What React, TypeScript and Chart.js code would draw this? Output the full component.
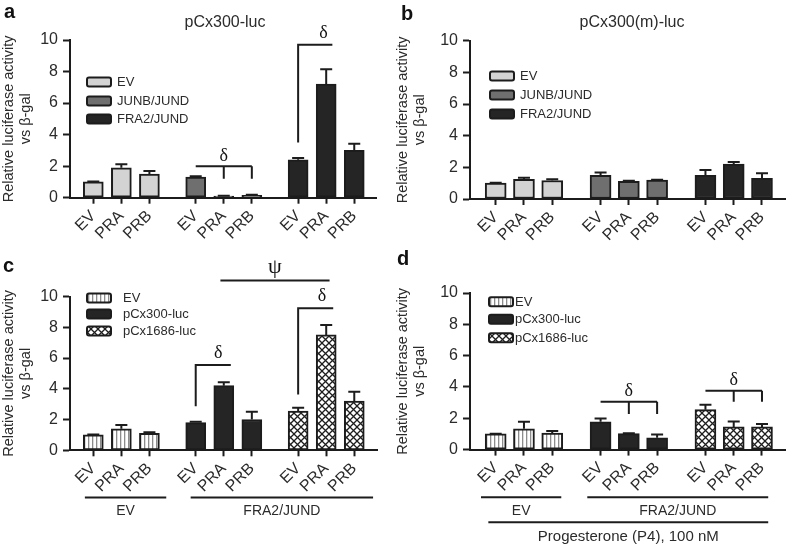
import React, { useEffect, useRef } from 'react';
import { Chart, registerables } from 'chart.js';

Chart.register(...registerables);

const FONT = '"Liberation Sans", Arial, Helvetica, sans-serif';
const SERIF = '"Liberation Serif", "DejaVu Serif", serif';
const INK = '#1c1c1c';
const TEXT = '#2b2b2b';

// ---------- shared labels ----------
const barLabels = ['EV', 'PRA', 'PRB'];
const yTicks = [0, 2, 4, 6, 8, 10];
const yTitle = ['Relative luciferase activity', 'vs β-gal'];

// ---------- panel a : pCx300-luc ----------
const aTitle = 'pCx300-luc';
const aSeries = ['EV', 'JUNB/JUND', 'FRA2/JUND'];
const aEV = [1.0, 1.9, 1.5];
const aEVErr = [0.03, 0.22, 0.2];
const aJUNB = [1.3, 0.1, 0.15];
const aJUNBErr = [0.06, 0.02, 0.03];
const aFRA2 = [2.4, 7.2, 3.0];
const aFRA2Err = [0.12, 0.95, 0.42];

// ---------- panel b : pCx300(m)-luc ----------
const bTitle = 'pCx300(m)-luc';
const bSeries = ['EV', 'JUNB/JUND', 'FRA2/JUND'];
const bEV = [1.0, 1.25, 1.17];
const bEVErr = [0.02, 0.1, 0.08];
const bJUNB = [1.5, 1.12, 1.2];
const bJUNBErr = [0.18, 0.04, 0.02];
const bFRA2 = [1.5, 2.2, 1.3];
const bFRA2Err = [0.33, 0.14, 0.32];

// ---------- panel c ----------
const cSeries = ['EV', 'pCx300-luc', 'pCx1686-luc'];
const cEV = [1.0, 1.4, 1.1];
const cEVErr = [0.02, 0.25, 0.07];
const c300 = [1.8, 4.2, 2.0];
const c300Err = [0.06, 0.22, 0.5];
const c1686 = [2.55, 7.5, 3.2];
const c1686Err = [0.22, 0.65, 0.6];
const cGroupLabels = ['EV', 'FRA2/JUND'];

// ---------- panel d ----------
const dSeries = ['EV', 'pCx300-luc', 'pCx1686-luc'];
const dEV = [1.0, 1.33, 1.05];
const dEVErr = [0.02, 0.45, 0.13];
const d300 = [1.78, 1.02, 0.75];
const d300Err = [0.2, 0.03, 0.22];
const d1686 = [2.55, 1.45, 1.45];
const d1686Err = [0.32, 0.35, 0.18];
const dGroupLabels = ['EV', 'FRA2/JUND'];
const dTreatment = 'Progesterone (P4), 100 nM';

// ---------- types ----------
type Bracket =
  | { kind: 'comb'; from: [number, number]; to: [number, number]; drops: [number, number][]; yTop: number; yBottom: number; sym: string; symY: number }
  | { kind: 'L'; at: [number, number]; yLow: number; yTop: number; reach: number; sym: string; symDx: number; symY: number }
  | { kind: 'span'; from: [number, number]; to: [number, number]; pad: number; y: number; sym: string; symY: number };

type Group = { label: string; from: number; to: number; lineDy: number; textDy: number; size: number };

type PanelSpec = {
  left: number; top: number; w: number; h: number;
  letter: string; letterPos: [number, number];
  title?: string; titlePos?: [number, number];
  series: string[]; values: number[][]; errors: number[][]; fills: string[];
  gap: number; xmin: number; xmax: number; barWidth: number;
  area: { left: number; right: number; top: number; bottom: number };
  legend: { x: number; ys: number[]; textX: number };
  brackets: Bracket[];
  groups: Group[];
};

const GRAY_LIGHT = '#d3d3d3';
const GRAY_MID = '#6f6f6f';
const DARK = '#252525';

const panels: PanelSpec[] = [
  {
    left: 0, top: 0, w: 394, h: 245,
    letter: 'a', letterPos: [4, 18],
    title: aTitle, titlePos: [225, 27],
    series: aSeries, values: [aEV, aJUNB, aFRA2], errors: [aEVErr, aJUNBErr, aFRA2Err],
    fills: [GRAY_LIGHT, GRAY_MID, DARK],
    gap: 3.65, xmin: -0.83, xmax: 10.075, barWidth: 20,
    area: { left: 70, right: 376, top: 40, bottom: 197.7 },
    legend: { x: 87, ys: [82, 101, 119], textX: 117 },
    brackets: [
      { kind: 'comb', from: [1, 0], to: [1, 2], drops: [[1, 1], [1, 2]], yTop: 2.0, yBottom: 1.2, sym: 'δ', symY: 2.6 },
      { kind: 'L', at: [2, 0], yLow: 3.5, yTop: 9.7, reach: 1.22, sym: 'δ', symDx: 0.9, symY: 10.45 },
    ],
    groups: [],
  },
  {
    left: 394, top: 0, w: 394, h: 245,
    letter: 'b', letterPos: [7, 20],
    title: bTitle, titlePos: [238, 27],
    series: bSeries, values: [bEV, bJUNB, bFRA2], errors: [bEVErr, bJUNBErr, bFRA2Err],
    fills: [GRAY_LIGHT, GRAY_MID, DARK],
    gap: 3.71, xmin: -0.909, xmax: 10.234, barWidth: 21,
    area: { left: 76, right: 391, top: 40.7, bottom: 199 },
    legend: { x: 96, ys: [76, 95, 114], textX: 126 },
    brackets: [],
    groups: [],
  },
  {
    left: 0, top: 245, w: 394, h: 300,
    letter: 'c', letterPos: [3, 27],
    series: cSeries, values: [cEV, c300, c1686], errors: [cEVErr, c300Err, c1686Err],
    fills: ['stripe', DARK, 'cross'],
    gap: 3.65, xmin: -0.83, xmax: 10.11, barWidth: 20,
    area: { left: 70, right: 377, top: 51.5, bottom: 205.3 },
    legend: { x: 87, ys: [53, 69, 86], textX: 123 },
    brackets: [
      { kind: 'span', from: [1, 1], to: [2, 1], pad: 0.12, y: 11.04, sym: 'ψ', symY: 11.9 },
      { kind: 'L', at: [1, 0], yLow: 2.87, yTop: 5.54, reach: 1.25, sym: 'δ', symDx: 0.8, symY: 6.3 },
      { kind: 'L', at: [2, 0], yLow: 3.63, yTop: 9.24, reach: 1.25, sym: 'δ', symDx: 0.85, symY: 10.0 },
    ],
    groups: [
      { label: cGroupLabels[0], from: -0.3, to: 2.6, lineDy: 47.3, textDy: 60.7, size: 14 },
      { label: cGroupLabels[1], from: 3.47, to: 9.97, lineDy: 47.3, textDy: 60.7, size: 14 },
    ],
  },
  {
    left: 394, top: 245, w: 394, h: 300,
    letter: 'd', letterPos: [3, 20],
    series: dSeries, values: [dEV, d300, d1686], errors: [dEVErr, d300Err, d1686Err],
    fills: ['stripe', DARK, 'cross'],
    gap: 3.71, xmin: -0.909, xmax: 10.234, barWidth: 21,
    area: { left: 76, right: 391, top: 48, bottom: 204.6 },
    legend: { x: 95, ys: [56.7, 74.3, 92.7], textX: 121 },
    brackets: [
      { kind: 'comb', from: [1, 0], to: [1, 2], drops: [[1, 1], [1, 2]], yTop: 3.06, yBottom: 2.27, sym: 'δ', symY: 3.7 },
      { kind: 'comb', from: [2, 0], to: [2, 2], drops: [[2, 1], [2, 2]], yTop: 3.76, yBottom: 3.06, sym: 'δ', symY: 4.45 },
    ],
    groups: [
      { label: dGroupLabels[0], from: -0.52, to: 2.32, lineDy: 47.7, textDy: 61.1, size: 14 },
      { label: dGroupLabels[1], from: 3.24, to: 9.64, lineDy: 47.7, textDy: 61.1, size: 14 },
      { label: dTreatment, from: -0.26, to: 9.64, lineDy: 72.7, textDy: 87.1, size: 15 },
    ],
  },
];

// ---------- patterns ----------
function makeStripe(): CanvasPattern | string {
  const c = document.createElement('canvas');
  c.width = 4; c.height = 4;
  const g = c.getContext('2d');
  if (!g) return '#fff';
  g.fillStyle = '#ffffff'; g.fillRect(0, 0, 4, 4);
  g.fillStyle = '#8c8c8c'; g.fillRect(0, 0, 1.3, 4);
  return g.createPattern(c, 'repeat') || '#fff';
}
function makeCross(): CanvasPattern | string {
  const s = 7;
  const c = document.createElement('canvas');
  c.width = s; c.height = s;
  const g = c.getContext('2d');
  if (!g) return '#fff';
  g.fillStyle = '#ffffff'; g.fillRect(0, 0, s, s);
  g.strokeStyle = '#1e1e1e'; g.lineWidth = 1.3;
  g.beginPath();
  g.moveTo(0, 0); g.lineTo(s, s);
  g.moveTo(s, 0); g.lineTo(0, s);
  g.stroke();
  return g.createPattern(c, 'repeat') || '#fff';
}
function resolveFill(key: string): any {
  if (key === 'stripe') return makeStripe();
  if (key === 'cross') return makeCross();
  return key;
}

// ---------- plugins ----------
const errorBarPlugin = {
  id: 'errorBars',
  afterDatasetsDraw(chart: any) {
    const ctx = chart.ctx;
    const ys = chart.scales.y;
    chart.data.datasets.forEach((ds: any, di: number) => {
      const meta = chart.getDatasetMeta(di);
      meta.data.forEach((bar: any, i: number) => {
        const v = ds.data[i].y;
        const e = ds.errors ? ds.errors[i] : 0;
        if (!e) return;
        const base = ys.getPixelForValue(v);
        const top = ys.getPixelForValue(v + e);
        ctx.save();
        ctx.strokeStyle = INK;
        ctx.lineWidth = 2;
        ctx.beginPath();
        ctx.moveTo(bar.x, base);
        ctx.lineTo(bar.x, top);
        ctx.moveTo(bar.x - 6, top);
        ctx.lineTo(bar.x + 6, top);
        ctx.stroke();
        ctx.restore();
      });
    });
  },
};

function decoPlugin(p: PanelSpec, fills: any[]) {
  return {
    id: 'deco',
    afterDraw(chart: any) {
      const ctx: CanvasRenderingContext2D = chart.ctx;
      const xs = chart.scales.x;
      const ys = chart.scales.y;
      const ca = chart.chartArea;
      const pos = (g: number, i: number) => g * p.gap + i;
      const X = (v: number) => xs.getPixelForValue(v);
      const Y = (v: number) => ys.getPixelForValue(v);
      ctx.save();
      // panel letter
      ctx.fillStyle = '#111';
      ctx.font = `bold 20px ${FONT}`;
      ctx.textAlign = 'left';
      ctx.textBaseline = 'alphabetic';
      ctx.fillText(p.letter, p.letterPos[0], p.letterPos[1]);
      // panel title
      if (p.title && p.titlePos) {
        ctx.font = `16px ${FONT}`;
        ctx.fillStyle = TEXT;
        ctx.textAlign = 'center';
        ctx.fillText(p.title, p.titlePos[0], p.titlePos[1]);
      }
      // legend
      ctx.font = `13px ${FONT}`;
      ctx.textAlign = 'left';
      ctx.textBaseline = 'middle';
      p.series.forEach((name, g) => {
        const yy = p.legend.ys[g];
        ctx.fillStyle = fills[g];
        ctx.strokeStyle = INK;
        ctx.lineWidth = 2;
        ctx.beginPath();
        if ((ctx as any).roundRect) (ctx as any).roundRect(p.legend.x, yy - 4.5, 24, 9, 2);
        else ctx.rect(p.legend.x, yy - 4.5, 24, 9);
        ctx.fill();
        ctx.stroke();
        ctx.fillStyle = TEXT;
        ctx.fillText(name, p.legend.textX, yy + 0.5);
      });
      // significance brackets
      ctx.strokeStyle = INK;
      ctx.lineWidth = 2;
      ctx.fillStyle = '#111';
      ctx.textAlign = 'center';
      ctx.textBaseline = 'middle';
      for (const b of p.brackets) {
        ctx.beginPath();
        if (b.kind === 'comb') {
          const y0 = Y(b.yTop);
          ctx.moveTo(X(pos(b.from[0], b.from[1])), y0);
          ctx.lineTo(X(pos(b.to[0], b.to[1])), y0);
          for (const d of b.drops) {
            const xx = X(pos(d[0], d[1]));
            ctx.moveTo(xx, y0);
            ctx.lineTo(xx, Y(b.yBottom));
          }
          ctx.stroke();
          ctx.font = `18px ${SERIF}`;
          ctx.fillText(b.sym, X(pos(b.drops[0][0], b.drops[0][1])), Y(b.symY));
        } else if (b.kind === 'L') {
          const x0 = pos(b.at[0], b.at[1]);
          ctx.moveTo(X(x0), Y(b.yLow));
          ctx.lineTo(X(x0), Y(b.yTop));
          ctx.lineTo(X(x0 + b.reach), Y(b.yTop));
          ctx.stroke();
          ctx.font = `18px ${SERIF}`;
          ctx.fillText(b.sym, X(x0 + b.symDx), Y(b.symY));
        } else {
          const x0 = pos(b.from[0], b.from[1]) - b.pad;
          const x1 = pos(b.to[0], b.to[1]) + b.pad;
          ctx.moveTo(X(x0), Y(b.y));
          ctx.lineTo(X(x1), Y(b.y));
          ctx.stroke();
          ctx.font = `22px ${SERIF}`;
          ctx.fillText(b.sym, X((x0 + x1) / 2), Y(b.symY));
        }
      }
      // group underlines below the x axis
      for (const gr of p.groups) {
        const x0 = X(gr.from);
        const x1 = X(gr.to);
        ctx.beginPath();
        ctx.moveTo(x0, ca.bottom + gr.lineDy);
        ctx.lineTo(x1, ca.bottom + gr.lineDy);
        ctx.stroke();
        ctx.font = `${gr.size}px ${FONT}`;
        ctx.fillStyle = TEXT;
        ctx.fillText(gr.label, (x0 + x1) / 2, ca.bottom + gr.textDy);
      }
      ctx.restore();
    },
  };
}

function buildConfig(p: PanelSpec): any {
  const fills = p.fills.map(resolveFill);
  const pos = (g: number, i: number) => g * p.gap + i;
  const positions = p.values.flatMap((vals, g) => vals.map((_, i) => pos(g, i)));
  const datasets = p.values.map((vals, g) => ({
    label: p.series[g],
    data: vals.map((v, i) => ({ x: pos(g, i), y: v })),
    errors: p.errors[g],
    backgroundColor: fills[g],
    borderColor: INK,
    borderWidth: 2,
    borderSkipped: false,
    barThickness: p.barWidth,
    grouped: false,
  }));
  return {
    type: 'bar',
    data: { datasets },
    options: {
      responsive: false,
      maintainAspectRatio: false,
      animation: false,
      devicePixelRatio: 1,
      layout: { padding: { left: 0, top: p.area.top, right: p.w - p.area.right, bottom: 0 } },
      plugins: { legend: { display: false }, tooltip: { enabled: false } },
      scales: {
        x: {
          type: 'linear',
          min: p.xmin,
          max: p.xmax,
          offset: false,
          bounds: 'data',
          afterBuildTicks: (s: any) => { s.ticks = positions.map((v) => ({ value: v })); },
          afterFit: (s: any) => { s.height = p.h - p.area.bottom; },
          grid: { display: true, drawOnChartArea: false, drawTicks: true, tickLength: 6, tickWidth: 2, tickColor: INK, offset: false },
          border: { display: true, color: INK, width: 2 },
          ticks: {
            autoSkip: false,
            minRotation: 45,
            maxRotation: 45,
            padding: 3,
            color: TEXT,
            font: { family: FONT, size: 16 },
            callback: (_v: any, i: number) => barLabels[i % barLabels.length],
          },
        },
        y: {
          type: 'linear',
          min: yTicks[0],
          max: yTicks[yTicks.length - 1],
          afterBuildTicks: (s: any) => { s.ticks = yTicks.map((v) => ({ value: v })); },
          afterFit: (s: any) => { s.width = p.area.left; },
          grid: { display: true, drawOnChartArea: false, drawTicks: true, tickLength: 7, tickWidth: 2, tickColor: INK },
          border: { display: true, color: INK, width: 2 },
          ticks: { padding: 5, color: TEXT, font: { family: FONT, size: 16 } },
          title: {
            display: true,
            text: yTitle,
            color: TEXT,
            padding: 0,
            font: { family: FONT, size: 14.5, lineHeight: 1.2 },
          },
        },
      },
    },
    plugins: [errorBarPlugin, decoPlugin(p, fills)],
  };
}

function ChartPanel({ panel }: { panel: PanelSpec }) {
  const ref = useRef<HTMLCanvasElement | null>(null);
  useEffect(() => {
    const canvas = ref.current;
    if (!canvas) return;
    const chart = new Chart(canvas, buildConfig(panel));
    return () => chart.destroy();
  }, [panel]);
  return (
    <canvas
      ref={ref}
      width={panel.w}
      height={panel.h}
      style={{ position: 'absolute', left: panel.left, top: panel.top, width: panel.w, height: panel.h }}
    />
  );
}

export default function App() {
  return (
    <div style={{ position: 'fixed', left: 0, top: 0, width: 788, height: 545, background: '#ffffff', overflow: 'hidden' }}>
      {panels.map((p) => (
        <ChartPanel key={p.letter} panel={p} />
      ))}
    </div>
  );
}
